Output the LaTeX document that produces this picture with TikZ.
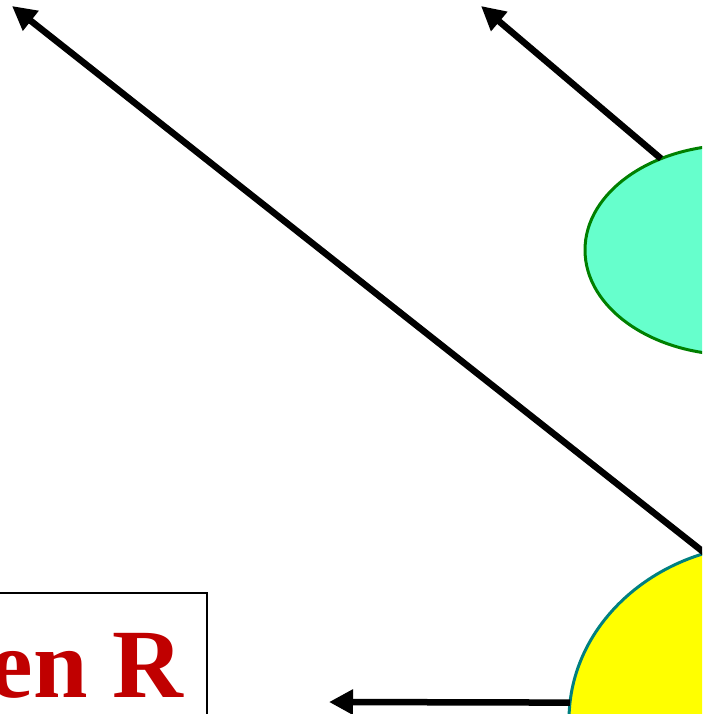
\documentclass[tikz,border=0pt]{standalone}
\usepackage{fontspec}
\setmainfont{Liberation Serif}
\usetikzlibrary{shapes.geometric,arrows.meta}
\definecolor{mint}{RGB}{102,255,204}
\definecolor{darkgreen}{RGB}{0,128,0}
\definecolor{tealline}{RGB}{0,128,128}
\definecolor{darkred}{RGB}{192,0,0}
\definecolor{pureyellow}{RGB}{255,255,0}
\tikzset{
  blob/.style={ellipse, inner sep=0pt, outer sep=0pt, line width=3pt},
  bigarrow/.style={line width=6.5pt, -{Triangle[length=24pt,width=24pt]}},
  frame/.style={draw=black, line width=2.5pt, inner sep=0pt, outer sep=0pt},
  lbl/.style={text=darkred, font=\bfseries\fontsize{98}{98}\selectfont, inner sep=0pt}
}
\begin{document}
\begin{tikzpicture}[x=1pt,y=-1pt]
\useasboundingbox (0,0) rectangle (702,714);
\clip (0,0) rectangle (702,714);
% ellipses
\node (g) [blob, draw=darkgreen, fill=mint, minimum width=300pt, minimum height=210pt] at (735,250) {};
\node (y) [blob, draw=tealline, fill=pureyellow, minimum width=400pt, minimum height=352pt] at (769,720) {};
% framed label
\node (box) [frame, minimum width=450pt, minimum height=200pt, anchor=north east] at (207,593) {};
\node (txt) [lbl, anchor=base east] at (183,697) {en R};
% arrow end points
\coordinate (e1) at (12,6);
\coordinate (e2) at (481,6);
\coordinate (e3) at (329,702);
% arrows
\draw[bigarrow] (y.111) -- (e1);
\draw[bigarrow] (g.129) -- (e2);
\draw[bigarrow] (y.175) -- (e3);
\end{tikzpicture}
\end{document}
